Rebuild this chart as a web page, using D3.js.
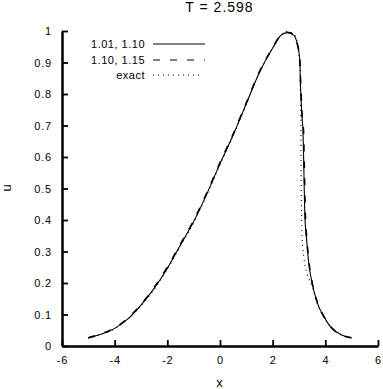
<!DOCTYPE html>
<html><head><meta charset="utf-8">
<script src="https://cdn.jsdelivr.net/npm/d3@7"></script>
<style>
body{margin:0;background:#fff;}
text{font-family:"Liberation Sans",Arial,sans-serif;fill:#000;}
</style></head>
<body><svg id="c" width="383" height="389"></svg>
<script>
const title = "T = 2.598";
const xTicks = [-6,-4,-2,0,2,4,6];
const xTickLabels = ["-6","-4","-2","0","2","4","6"];
const yTicks = [0,0.1,0.2,0.3,0.4,0.5,0.6,0.7,0.8,0.9,1];
const yTickLabels = ["0","0.1","0.2","0.3","0.4","0.5","0.6","0.7","0.8","0.9","1"];
const seriesNames = ["1.01, 1.10","1.10, 1.15","exact"];

const xSolid = [-5,-4.5,-4,-3.5,-3,-2.5,-2,-1.5,-1,-0.5,0,0.5,1,1.5,2,2.3,2.55,2.8,2.93,3.03,3.06,3.12,3.15,3.18,3.22,3.29,3.37,3.5,3.7,3.95,4.25,4.6,5];
const uSolid = [0.026,0.038,0.056,0.086,0.13,0.183,0.247,0.321,0.395,0.483,0.579,0.67,0.77,0.869,0.946,0.985,0.995,0.987,0.96,0.908,0.82,0.72,0.686,0.58,0.42,0.337,0.263,0.199,0.136,0.092,0.056,0.036,0.026];

const xDashed = [-5,-4.5,-4,-3.5,-3,-2.5,-2,-1.5,-1,-0.5,0,0.5,1,1.5,2,2.3,2.55,2.8,2.93,3.03,3.07,3.13,3.17,3.2,3.24,3.3,3.38,3.5,3.7,3.95,4.25,4.6,5];
const uDashed = [0.026,0.039,0.057,0.088,0.132,0.186,0.25,0.324,0.398,0.486,0.582,0.673,0.772,0.871,0.947,0.986,0.996,0.988,0.961,0.91,0.82,0.72,0.686,0.58,0.42,0.337,0.265,0.201,0.138,0.093,0.057,0.036,0.026];

const xExact = [-5,-4.5,-4,-3.5,-3,-2.5,-2,-1.5,-1,-0.5,0,0.5,1,1.5,2,2.3,2.55,2.8,2.93,3.0,3.04,3.07,3.08,3.1,3.12,3.18,3.31,3.5,3.7,3.95,4.25,4.6,5];
const uExact = [0.025,0.037,0.055,0.085,0.128,0.18,0.244,0.318,0.392,0.48,0.576,0.667,0.768,0.868,0.945,0.985,0.998,0.99,0.965,0.925,0.85,0.7,0.55,0.4,0.337,0.283,0.23,0.188,0.133,0.09,0.055,0.035,0.025];

const svg = d3.select("#c");
const x = d3.scaleLinear().domain([-6,6]).range([62,378]);
const y = d3.scaleLinear().domain([0,1]).range([346,31]);

// title
svg.append("text").attr("x",219.5).attr("y",12).attr("text-anchor","middle")
  .style("font-size","14px").style("letter-spacing","1px").text(title);

// axes
const xa = svg.append("g").attr("transform","translate(0,346)")
  .call(d3.axisBottom(x).tickValues(xTicks).tickFormat((d,i)=>xTickLabels[i]).tickSizeInner(-6).tickSizeOuter(0).tickPadding(10));
const ya = svg.append("g").attr("transform","translate(62,0)")
  .call(d3.axisLeft(y).tickValues(yTicks).tickFormat((d,i)=>yTickLabels[i]).tickSizeInner(-6).tickSizeOuter(0).tickPadding(10));
[xa,ya].forEach(g=>{
  g.select(".domain").attr("stroke","#000").attr("stroke-width",2.5);
  g.selectAll(".tick line").attr("stroke","#000").attr("stroke-width",1.8);
  g.selectAll(".tick text").style("font-size","11px").style("letter-spacing","0.8px").attr("fill","#000");
});

// axis labels
svg.append("text").attr("x",219.5).attr("y",387).attr("text-anchor","middle").style("font-size","13px").text("x");
svg.append("text").attr("transform","translate(11,188) rotate(-90)").attr("text-anchor","middle").style("font-size","13px").text("u");

const line = d3.line().x(d=>x(d[0])).y(d=>y(d[1])).curve(d3.curveMonotoneX);
const styles = [
  {dash:null, w:1.1},
  {dash:"7,10", w:1.6},
  {dash:"1,4", w:1.1}
];
const data = [
  d3.zip(xSolid,uSolid),
  d3.zip(xDashed,uDashed),
  d3.zip(xExact,uExact)
];
data.forEach((d,i)=>{
  svg.append("path").datum(d).attr("d",line).attr("fill","none").attr("stroke","#000")
    .attr("stroke-width",styles[i].w).attr("stroke-dasharray",styles[i].dash);
});

// legend
const legY = [44,60,75];
seriesNames.forEach((n,i)=>{
  svg.append("text").attr("x",145).attr("y",legY[i]+4).attr("text-anchor","end")
    .style("font-size","11px").style("letter-spacing","0.5px").text(n);
  svg.append("line").attr("x1",153).attr("x2",i===2?200:205).attr("y1",legY[i]).attr("y2",legY[i])
    .attr("stroke","#000").attr("stroke-width",1.1).attr("stroke-dasharray",styles[i].dash);
});
</script></body></html>
